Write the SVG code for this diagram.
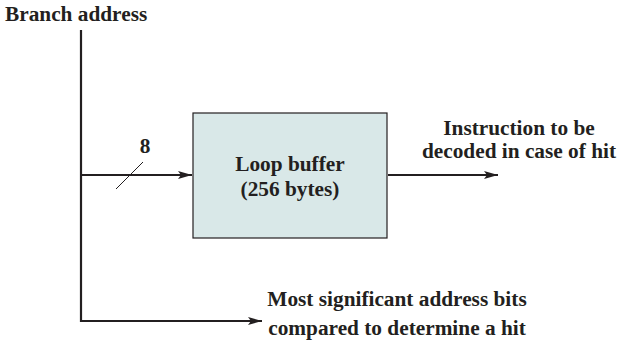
<svg xmlns="http://www.w3.org/2000/svg" width="618" height="343" viewBox="0 0 618 343">
<style>
text{font-family:"Liberation Serif","Times New Roman",serif;font-weight:bold;font-size:21.3px;fill:#231f20}
.ln{stroke:#231f20;stroke-width:2.2;fill:none}
</style>
<defs>
<marker id="ah" viewBox="0 0 14 8" refX="14" refY="4" markerWidth="14" markerHeight="8" markerUnits="userSpaceOnUse" orient="auto">
<path d="M0,0 L14,4 L0,8 L3,4 Z" fill="#231f20"/>
</marker>
</defs>
<text x="5" y="21">Branch address</text>
<g id="connectors">
<path class="ln" d="M81,30 V321 H262" marker-end="url(#ah)"/>
<path class="ln" d="M81,175 H192" marker-end="url(#ah)"/>
<path class="ln" d="M388,175 H498" marker-end="url(#ah)"/>
<line x1="116" y1="189" x2="143" y2="162" stroke="#231f20" stroke-width="1"/>
<text x="145" y="153" text-anchor="middle">8</text>
</g>
<g id="loop-buffer">
<rect x="193" y="113" width="194" height="125" fill="#d9e8e8" stroke="#231f20" stroke-width="1.2"/>
<text x="290" y="171" text-anchor="middle">Loop buffer</text>
<text x="290" y="196" text-anchor="middle">(256 bytes)</text>
</g>
<g id="out-label">
<text x="519" y="135" text-anchor="middle">Instruction to be</text>
<text x="519" y="158" text-anchor="middle">decoded in case of hit</text>
</g>
<g id="bits-label">
<text x="397" y="306" text-anchor="middle">Most significant address bits</text>
<text x="397" y="335" text-anchor="middle">compared to determine a hit</text>
</g>
</svg>
